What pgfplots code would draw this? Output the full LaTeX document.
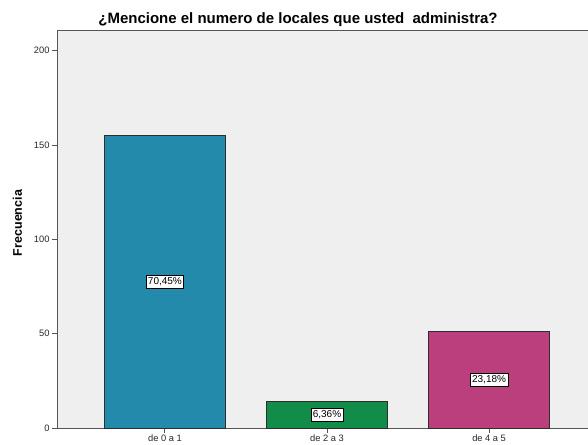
\documentclass[border=0pt]{standalone}
\usepackage{fontspec}
\setmainfont{Liberation Sans}
\usepackage{pgfplots}
\pgfplotsset{compat=1.18}
\definecolor{bgc}{HTML}{EFEFEF}
\definecolor{c1}{HTML}{248AAC}
\definecolor{c2}{HTML}{128D49}
\definecolor{c3}{HTML}{BC3F7D}
\definecolor{edge}{HTML}{2E2E2E}
\definecolor{axc}{HTML}{555555}
\begin{document}
\begin{tikzpicture}
\begin{axis}[
  name=ax,
  at={(0pt,0pt)}, anchor=south west,
  scale only axis,
  width=540pt, height=398pt,
  xmin=-0.666, xmax=2.666,
  ymin=0, ymax=211,
  axis background/.style={fill=bgc},
  axis line style={axc, line width=0.9pt},
  xtick={0,1,2},
  xticklabels={de 0 a 1, de 2 a 3, de 4 a 5},
  ytick={0,50,100,150,200},
  tick align=outside, tick pos=left,
  major tick length=5pt,
  tick style={axc, line width=0.9pt},
  ticklabel style={font=\fontsize{9.3}{10}\selectfont, text=black!85},
  /pgf/number format/assume math mode=true,
  yticklabel style={xshift=1pt},
  xticklabel style={inner sep=0pt, yshift=-1.5pt},
  bar width=0.75,
  ybar, bar shift=0pt,
  clip=false,
]
\addplot[fill=c1, draw=edge, line width=0.8pt] coordinates {(0,155)};
\addplot[fill=c2, draw=edge, line width=0.8pt] coordinates {(1,14)};
\addplot[fill=c3, draw=edge, line width=0.8pt] coordinates {(2,51)};
\addplot[draw=none, fill=none, bar width=0,
  nodes near coords, point meta=explicit symbolic,
  every node near coord/.append style={anchor=center, fill=white, draw=black, line width=0.5pt,
    inner xsep=1.8pt, inner ysep=2.5pt, font=\fontsize{10}{11}\selectfont}]
  table[meta=lab] {
x y lab
0 77.5 70,45\%
1 7 6,36\%
2 25.5 23,18\%
};
\end{axis}
\node[font=\bfseries\fontsize{12.5}{13}\selectfont, rotate=90] at ([xshift=-39.5pt,yshift=6pt]ax.west) {Frecuencia};
\node[font=\bfseries\fontsize{15}{16}\selectfont] at ([xshift=241pt,yshift=10.5pt]ax.north west) {¿Mencione el numero de locales que usted\ \ administra?};
\pgfresetboundingbox
\useasboundingbox ([xshift=-57pt,yshift=-16pt]ax.south west) rectangle ([xshift=531pt,yshift=30pt]ax.north west);
\end{tikzpicture}
\end{document}
